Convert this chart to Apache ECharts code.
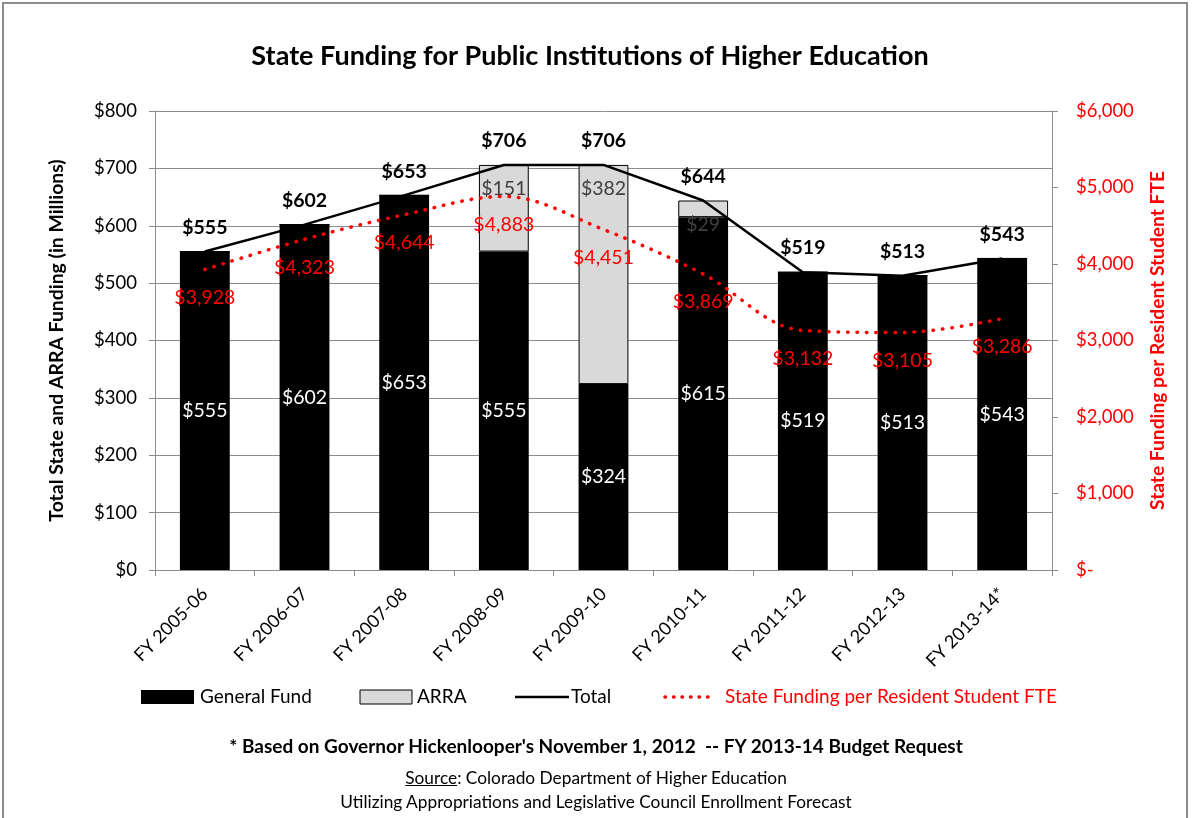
<!DOCTYPE html>
<html><head><meta charset="utf-8">
<script src="https://cdn.jsdelivr.net/npm/echarts@6/dist/echarts.min.js"></script>
<style>
html,body{margin:0;padding:0;background:#fff;}
#frame{position:absolute;left:2px;top:2px;width:1186px;height:830px;border:2px solid #8c8c8c;box-sizing:border-box;}
#chart{position:absolute;left:0;top:0;width:1193px;height:818px;}
.foot{position:absolute;left:0;width:1192px;text-align:center;font-family:Lato,"Noto Sans",sans-serif;color:#000;}
</style></head>
<body>
<div id="frame"></div>
<div id="chart"></div>
<div class="foot" style="top:734px;font-size:19px;font-weight:bold;">* Based on Governor Hickenlooper's November 1, 2012&nbsp; -- FY 2013-14 Budget Request</div>
<div class="foot" style="top:767px;font-size:17.3px;"><u>Source</u>: Colorado Department of Higher Education</div>
<div class="foot" style="top:791px;font-size:17.3px;">Utilizing Appropriations and Legislative Council Enrollment Forecast</div>
<script>
const categories = ['FY 2005-06','FY 2006-07','FY 2007-08','FY 2008-09','FY 2009-10','FY 2010-11','FY 2011-12','FY 2012-13','FY 2013-14*'];
const generalFund = [555, 602, 653, 555, 324, 615, 519, 513, 543];
const arra = [0, 0, 0, 151, 382, 29, 0, 0, 0];
const total = [555, 602, 653, 706, 706, 644, 519, 513, 543];
const perFTE = [3928, 4323, 4644, 4883, 4451, 3869, 3132, 3105, 3286];
const leftTicks = {min: 0, max: 800, interval: 100};
const rightTicks = {min: 0, max: 6000, interval: 1000};
const legendNames = ['General Fund', 'ARRA', 'Total', 'State Funding per Resident Student FTE'];

const FONT = 'Lato,"Noto Sans",sans-serif';
const fmtComma = v => '$' + Math.round(v).toLocaleString('en-US');
const chart = echarts.init(document.getElementById('chart'));

const LY = 697;
const LF = '19px ' + FONT;
const legendGraphics = [
  {type: 'rect', shape: {x: 141, y: LY - 7, width: 53, height: 14}, style: {fill: '#000'}},
  {type: 'text', x: 200, y: LY, style: {text: legendNames[0], font: LF, fill: '#000', textVerticalAlign: 'middle'}},
  {type: 'rect', shape: {x: 360, y: LY - 7, width: 52, height: 14}, style: {fill: '#d9d9d9', stroke: '#000', lineWidth: 1}},
  {type: 'text', x: 417, y: LY, style: {text: legendNames[1], font: LF, fill: '#000', textVerticalAlign: 'middle'}},
  {type: 'line', shape: {x1: 515, y1: LY, x2: 569, y2: LY}, style: {stroke: '#000', lineWidth: 2.5}},
  {type: 'text', x: 571, y: LY, style: {text: legendNames[2], font: LF, fill: '#000', textVerticalAlign: 'middle'}},
  {type: 'line', shape: {x1: 665, y1: LY, x2: 710, y2: LY}, style: {stroke: '#ff0000', lineWidth: 3.5, lineDash: [0.5, 8], lineCap: 'round'}},
  {type: 'text', x: 725, y: LY, style: {text: legendNames[3], font: LF, fill: '#ff0000', textVerticalAlign: 'middle'}}
];

chart.setOption({
  animation: false,
  textStyle: {fontFamily: FONT},
  title: {
    text: 'State Funding for Public Institutions of Higher Education',
    left: 585, top: 38, textAlign: 'center',
    textStyle: {fontFamily: FONT, fontSize: 27, fontWeight: 'bold', color: '#000'}
  },
  graphic: legendGraphics,
  grid: {left: 155, right: 141, top: 111, bottom: 248},
  xAxis: {
    type: 'category', data: categories,
    axisLine: {lineStyle: {color: '#8c8c8c', width: 1}},
    axisTick: {show: true, length: 6, lineStyle: {color: '#8c8c8c'}},
    axisLabel: {rotate: 45, fontSize: 18, color: '#000', fontFamily: FONT, margin: 21}
  },
  yAxis: [
    {
      type: 'value', min: leftTicks.min, max: leftTicks.max, interval: leftTicks.interval,
      name: 'Total State and ARRA Funding (in Millions)', nameLocation: 'middle', nameGap: 89,
      nameTextStyle: {fontFamily: FONT, fontSize: 19.4, fontWeight: 'bold', color: '#000'},
      axisLine: {show: true, lineStyle: {color: '#8c8c8c'}},
      axisTick: {show: true, length: 6, lineStyle: {color: '#8c8c8c'}},
      axisLabel: {fontSize: 18.5, color: '#000', fontFamily: FONT, margin: 18, formatter: v => '$' + v},
      splitLine: {show: true, lineStyle: {color: '#8c8c8c', width: 1}}
    },
    {
      type: 'value', min: rightTicks.min, max: rightTicks.max, interval: rightTicks.interval,
      name: 'State Funding per Resident Student FTE', nameLocation: 'middle', nameGap: 96, nameRotate: 90,
      nameTextStyle: {fontFamily: FONT, fontSize: 19.2, fontWeight: 'bold', color: '#ff0000'},
      axisLine: {show: true, lineStyle: {color: '#8c8c8c'}},
      axisTick: {show: true, length: 6, lineStyle: {color: '#8c8c8c'}},
      axisLabel: {fontSize: 18.5, color: '#ff0000', fontFamily: FONT, margin: 24, formatter: v => v === 0 ? '$-' : fmtComma(v)},
      splitLine: {show: false}
    }
  ],
  series: [
    {
      name: legendNames[0], type: 'bar', stack: 'funds', barWidth: '50%', data: generalFund,
      itemStyle: {color: '#000000'},
      label: {show: true, position: 'inside', color: '#fff', fontSize: 19.5, fontFamily: FONT, formatter: p => '$' + p.value}
    },
    {
      name: legendNames[1], type: 'bar', stack: 'funds', data: arra,
      itemStyle: {color: '#d9d9d9', borderColor: '#000', borderWidth: 1},
      label: {show: true, position: 'insideTop', distance: 14, color: '#404040', fontSize: 19.5, fontFamily: FONT,
        formatter: p => p.value ? '$' + p.value : ''}
    },
    {
      name: legendNames[2], type: 'line', data: total, symbol: 'circle', symbolSize: 0.1, showSymbol: true, z: 5,
      lineStyle: {color: '#000', width: 2.5},
      itemStyle: {color: '#000'},
      label: {show: true, position: 'top', distance: 14, color: '#000', fontSize: 19.5, fontWeight: 'bold', fontFamily: FONT,
        formatter: p => '$' + p.value}
    },
    {
      name: legendNames[3], type: 'line', yAxisIndex: 1, data: perFTE,
      smooth: 0.35, symbol: 'circle', symbolSize: 0.1, showSymbol: true, z: 6,
      lineStyle: {color: '#ff0000', width: 3.5, type: [0.5, 9], cap: 'round'},
      itemStyle: {color: '#ff0000'},
      label: {show: true, position: 'bottom', distance: 18, color: '#ff0000', fontSize: 19.5, fontFamily: FONT,
        formatter: p => fmtComma(p.value)}
    }
  ]
});
</script>
</body></html>
